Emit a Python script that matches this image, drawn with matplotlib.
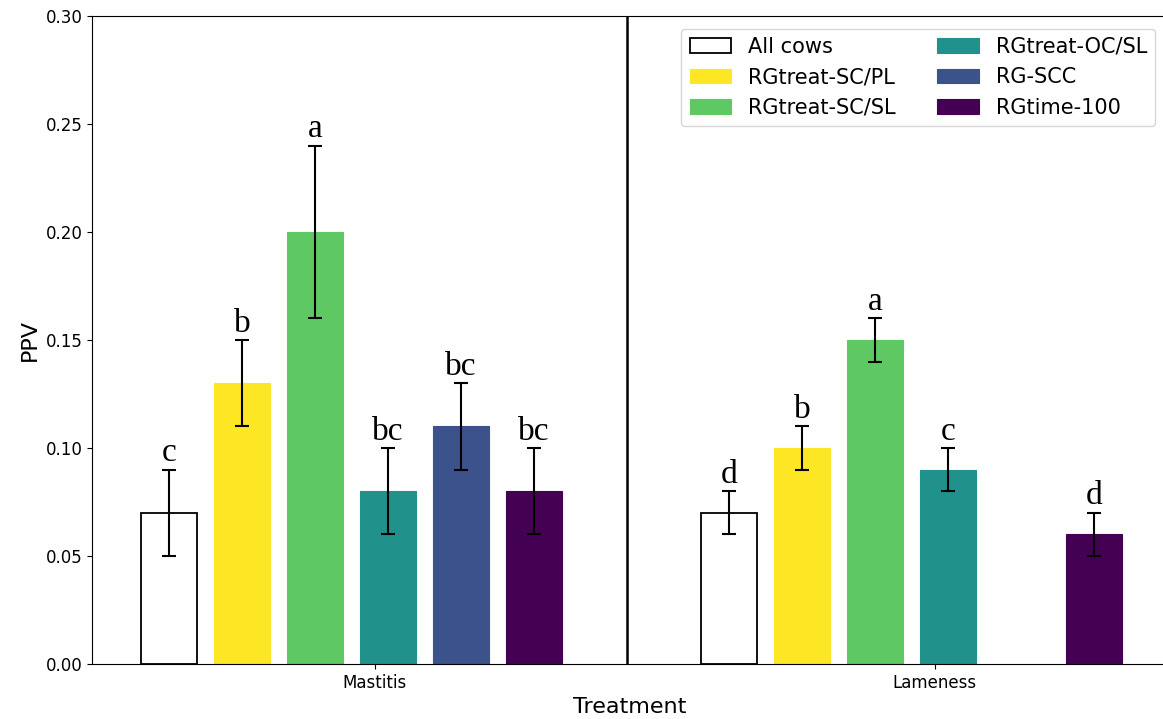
import numpy as np
import matplotlib
matplotlib.use("Agg")
import matplotlib.pyplot as plt

groups = ["Mastitis", "Lameness"]
series = ["All cows", "RGtreat-SC/PL", "RGtreat-SC/SL",
          "RGtreat-OC/SL", "RG-SCC", "RGtime-100"]
colors = ["white", "#fde725", "#5ec962", "#21918c", "#3b528b", "#440154"]

# PPV per series, [Mastitis, Lameness]; RG-SCC has no Lameness value
ppv = [
    [0.07, 0.07],
    [0.13, 0.10],
    [0.20, 0.15],
    [0.08, 0.09],
    [0.11, np.nan],
    [0.08, 0.06],
]
err = [
    [0.02, 0.01],
    [0.02, 0.01],
    [0.04, 0.01],
    [0.02, 0.01],
    [0.02, np.nan],
    [0.02, 0.01],
]
letters = [
    ["c", "d"],
    ["b", "b"],
    ["a", "a"],
    ["bc", "c"],
    ["bc", ""],
    ["bc", "d"],
]

fig = plt.figure(figsize=(11.63, 7.19), dpi=100)
# the right edge of the axes runs just past the picture
ax = fig.add_axes([0.0791, 0.0765, 0.925, 0.9012])

x = np.arange(len(groups))
slot = 0.1304
width = 0.1

for i, name in enumerate(series):
    pos = x + (i - 2.82) * slot
    vals = np.array(ppv[i], dtype=float)
    e = np.array(err[i], dtype=float)
    if i == 0:
        ax.bar(pos, vals, width, color="white", edgecolor="black",
               linewidth=1.3, label=name)
    else:
        ax.bar(pos, vals, width, color=colors[i], edgecolor=colors[i],
               linewidth=0.8, alpha=1.0, label=name)
    ax.errorbar(pos, vals, yerr=e, fmt="none", ecolor="black",
                elinewidth=1.5, capsize=5, capthick=1.5)
    for j in range(len(groups)):
        if letters[i][j] and not np.isnan(vals[j]):
            ax.annotate(letters[i][j], (pos[j], vals[j] + e[j]),
                        xytext=(0, 1), textcoords="offset points",
                        ha="center", va="bottom", fontsize=24,
                        family="Liberation Serif")

ax.axvline(0.45, color="black", linewidth=1.8)

ax.set_xlim(-0.505, 1.416)
ax.set_ylim(0, 0.30)
ax.set_xticks(x)
ax.set_xticklabels(groups, fontsize=12)
ax.set_yticks(np.arange(0, 0.31, 0.05))
ax.set_yticklabels([f"{v:.2f}" for v in np.arange(0, 0.31, 0.05)], fontsize=12)
ax.set_xlabel("Treatment", fontsize=16)
ax.set_ylabel("PPV", fontsize=16)

ax.legend(ncol=2, loc="upper right", fontsize=15, handlelength=2.0,
          columnspacing=2.0, borderaxespad=0.6)

fig.savefig("out.png", dpi=100)
